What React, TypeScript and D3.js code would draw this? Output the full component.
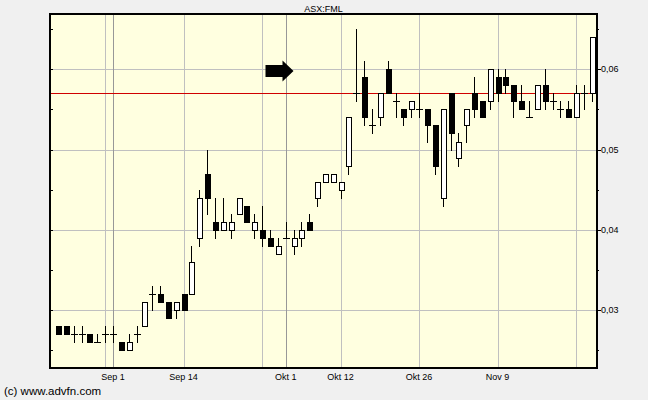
import React from "react";
import * as d3 from "d3";

// ---- data (ASX:FML daily candles) ----
const dates = [
  "2015-08-21","2015-08-24","2015-08-25","2015-08-26","2015-08-27","2015-08-28","2015-08-31",
  "2015-09-01","2015-09-02","2015-09-03","2015-09-04","2015-09-07","2015-09-08","2015-09-09","2015-09-10","2015-09-11",
  "2015-09-14","2015-09-15","2015-09-16","2015-09-17","2015-09-18","2015-09-21","2015-09-22","2015-09-23","2015-09-24","2015-09-25",
  "2015-09-28","2015-09-29","2015-09-30",
  "2015-10-01","2015-10-02","2015-10-05","2015-10-06","2015-10-07","2015-10-08","2015-10-09",
  "2015-10-12","2015-10-13","2015-10-14","2015-10-15","2015-10-16","2015-10-19","2015-10-20","2015-10-21","2015-10-22","2015-10-23",
  "2015-10-26","2015-10-27","2015-10-28","2015-10-29","2015-10-30",
  "2015-11-02","2015-11-03","2015-11-04","2015-11-05","2015-11-06","2015-11-09","2015-11-10","2015-11-11","2015-11-12","2015-11-13",
  "2015-11-16","2015-11-17","2015-11-18","2015-11-19","2015-11-20","2015-11-23","2015-11-24","2015-11-25",
];
const open = [
  0.028,0.028,0.027,0.027,0.027,0.026,0.027,
  0.027,0.026,0.025,0.027,0.028,0.032,0.032,0.031,0.030,
  0.032,0.032,0.039,0.047,0.041,0.040,0.040,0.042,0.043,0.040,
  0.040,0.039,0.037,
  0.039,0.038,0.039,0.041,0.044,0.046,0.046,
  0.045,0.048,0.057,0.059,0.053,0.054,0.060,0.056,0.055,0.055,
  0.055,0.055,0.053,0.044,0.057,
  0.049,0.053,0.057,0.056,0.056,0.059,0.059,0.058,0.056,0.054,
  0.055,0.058,0.056,0.055,0.055,0.054,0.057,0.057,
];
const high = [
  0.028,0.028,0.028,0.028,0.027,0.027,0.028,
  0.028,0.026,0.027,0.028,0.031,0.033,0.033,0.031,0.031,
  0.032,0.038,0.045,0.050,0.044,0.044,0.042,0.044,0.043,0.042,
  0.043,0.040,0.039,
  0.041,0.040,0.041,0.042,0.046,0.047,0.047,
  0.046,0.054,0.065,0.061,0.055,0.057,0.061,0.057,0.055,0.056,
  0.057,0.055,0.053,0.055,0.057,
  0.052,0.055,0.059,0.056,0.060,0.060,0.060,0.058,0.058,0.056,
  0.058,0.060,0.057,0.056,0.056,0.058,0.058,0.064,
];
const low = [
  0.027,0.027,0.026,0.026,0.026,0.026,0.026,
  0.026,0.025,0.025,0.026,0.028,0.030,0.031,0.029,0.029,
  0.030,0.032,0.038,0.042,0.039,0.040,0.039,0.042,0.041,0.039,
  0.038,0.038,0.037,
  0.039,0.037,0.038,0.040,0.043,0.046,0.046,
  0.044,0.047,0.056,0.053,0.052,0.053,0.057,0.054,0.053,0.054,
  0.054,0.051,0.047,0.043,0.050,
  0.048,0.051,0.054,0.054,0.055,0.056,0.057,0.054,0.055,0.054,
  0.055,0.055,0.055,0.054,0.054,0.054,0.055,0.056,
];
const close = [
  0.027,0.027,0.027,0.027,0.026,0.026,0.027,
  0.027,0.025,0.026,0.027,0.031,0.032,0.031,0.029,0.031,
  0.030,0.036,0.044,0.044,0.040,0.041,0.041,0.044,0.041,0.041,
  0.039,0.038,0.038,
  0.039,0.039,0.040,0.040,0.046,0.047,0.047,
  0.046,0.054,0.057,0.054,0.053,0.057,0.057,0.056,0.054,0.056,
  0.055,0.053,0.048,0.055,0.052,
  0.051,0.055,0.055,0.054,0.060,0.057,0.058,0.056,0.055,0.054,
  0.058,0.056,0.056,0.055,0.054,0.057,0.057,0.064,
];

const priceTicks = [0.03, 0.04, 0.05, 0.06];
const minorTicks = [0.025, 0.035, 0.045, 0.055, 0.065];
const xLabelDates = ["2015-09-01", "2015-09-14", "2015-10-01", "2015-10-12", "2015-10-26", "2015-11-09"];
const xLabelTexts = ["Sep 1", "Sep 14", "Okt 1", "Okt 12", "Okt 26", "Nov 9"];
const lightGridDates = ["2015-08-31", "2015-09-14", "2015-09-28", "2015-10-12", "2015-10-26", "2015-11-09", "2015-11-23"];
const darkGridDates = ["2015-09-01", "2015-10-01"];
const refLevel = 0.057;
const arrowDate = "2015-10-02";
const arrowPrice = 0.0598;
const title = "ASX:FML";
const footer = "(c) www.advfn.com";

const W = 648, H = 400;
const PL = 50, PR = 597, PT = 14, PB = 368;
const FONT = "'Liberation Sans', Arial, sans-serif";

const fmt = d3.formatLocale({ decimal: ",", thousands: ".", grouping: [3], currency: ["", ""] }).format(".2f");

export default function App() {
  const x = d3.scalePoint<string>().domain(dates).range([58, 591.8]);
  const y = d3.scaleLinear().domain([0.022771, 0.066893]).range([PB, PT]);
  const px = (d: string) => Math.round(x(d) as number);
  const py = (v: number) => Math.round(y(v));

  const ax = x(arrowDate) as number;
  const ay = y(arrowPrice);
  const arrowPts = [
    [ax - 28, ay - 6], [ax - 11, ay - 6], [ax - 11, ay - 10.5], [ax, ay],
    [ax - 11, ay + 10.5], [ax - 11, ay + 6], [ax - 28, ay + 6],
  ].map((p) => p.join(",")).join(" ");

  return (
    <div style={{ position: "fixed", left: 0, top: 0 }}>
      <svg width={W} height={H} style={{ display: "block" }} fontFamily={FONT}>
        <rect x={0} y={0} width={W} height={H} fill="#F0F0F0" />
        <rect x={PL} y={PT} width={PR - PL} height={PB - PT} fill="#FFFFE0" />
        {/* horizontal grid */}
        {priceTicks.map((t) => (
          <line key={"h" + t} x1={PL} x2={PR} y1={py(t) + 0.5} y2={py(t) + 0.5} stroke="#C0C0C0" strokeWidth={1} />
        ))}
        {/* vertical grid */}
        {lightGridDates.map((d) => (
          <line key={"lg" + d} x1={px(d) + 0.5} x2={px(d) + 0.5} y1={PT} y2={PB} stroke="#C0C0C0" strokeWidth={1} />
        ))}
        {darkGridDates.map((d) => (
          <line key={"dg" + d} x1={px(d) + 0.5} x2={px(d) + 0.5} y1={PT} y2={PB} stroke="#989898" strokeWidth={1} />
        ))}
        {/* reference line */}
        <line x1={PL} x2={PR} y1={py(refLevel) + 0.5} y2={py(refLevel) + 0.5} stroke="#D00000" strokeWidth={1} />
        {/* candles */}
        {dates.map((d, i) => {
          const c = px(d);
          const o = open[i], cl = close[i];
          const top = py(Math.max(o, cl));
          const bot = py(Math.min(o, cl));
          const wick = (
            <line x1={c + 0.5} x2={c + 0.5} y1={py(high[i])} y2={py(low[i]) + 1} stroke="#000" strokeWidth={1} />
          );
          let body;
          if (o === cl) {
            body = <line x1={c - 3} x2={c + 4} y1={top + 0.5} y2={top + 0.5} stroke="#000" strokeWidth={1} />;
          } else if (cl < o) {
            body = <rect x={c - 2} y={top} width={6} height={bot - top + 1} fill="#000" />;
          } else {
            body = (
              <rect x={c - 1.5} y={top + 0.5} width={5} height={bot - top} fill="#FFFFFF" stroke="#000" strokeWidth={1} />
            );
          }
          return (
            <g key={d} shapeRendering="crispEdges">
              {wick}
              {body}
            </g>
          );
        })}
        {/* arrow annotation */}
        <polygon points={arrowPts} fill="#000" />
        {/* frame */}
        <rect x={PL} y={PT} width={PR - PL} height={PB - PT} fill="none" stroke="#000" strokeWidth={2} />
        {/* right axis */}
        {priceTicks.map((t) => (
          <g key={"rt" + t}>
            <line x1={PR} x2={PR + 4} y1={py(t) + 0.5} y2={py(t) + 0.5} stroke="#000" />
            <line x1={PL} x2={PL + 3} y1={py(t) + 0.5} y2={py(t) + 0.5} stroke="#000" />
            <text x={PR + 4} y={y(t)} dy="0.35em" fontSize={9} fill="#000">{fmt(t)}</text>
          </g>
        ))}
        {minorTicks.map((t) => (
          <g key={"mt" + t}>
            <line x1={PR} x2={PR + 2} y1={py(t) + 0.5} y2={py(t) + 0.5} stroke="#000" />
            <line x1={PL} x2={PL + 3} y1={py(t) + 0.5} y2={py(t) + 0.5} stroke="#000" />
          </g>
        ))}
        {/* x labels */}
        {xLabelDates.map((d, i) => (
          <text key={"xl" + d} x={x(d) as number} y={380} textAnchor="middle" fontSize={9} fill="#000">
            {xLabelTexts[i]}
          </text>
        ))}
        <text x={(PL + PR) / 2} y={12} textAnchor="middle" fontSize={9} fill="#000">{title}</text>
        <text x={4} y={395} fontSize={11.5} fill="#000">{footer}</text>
      </svg>
    </div>
  );
}
